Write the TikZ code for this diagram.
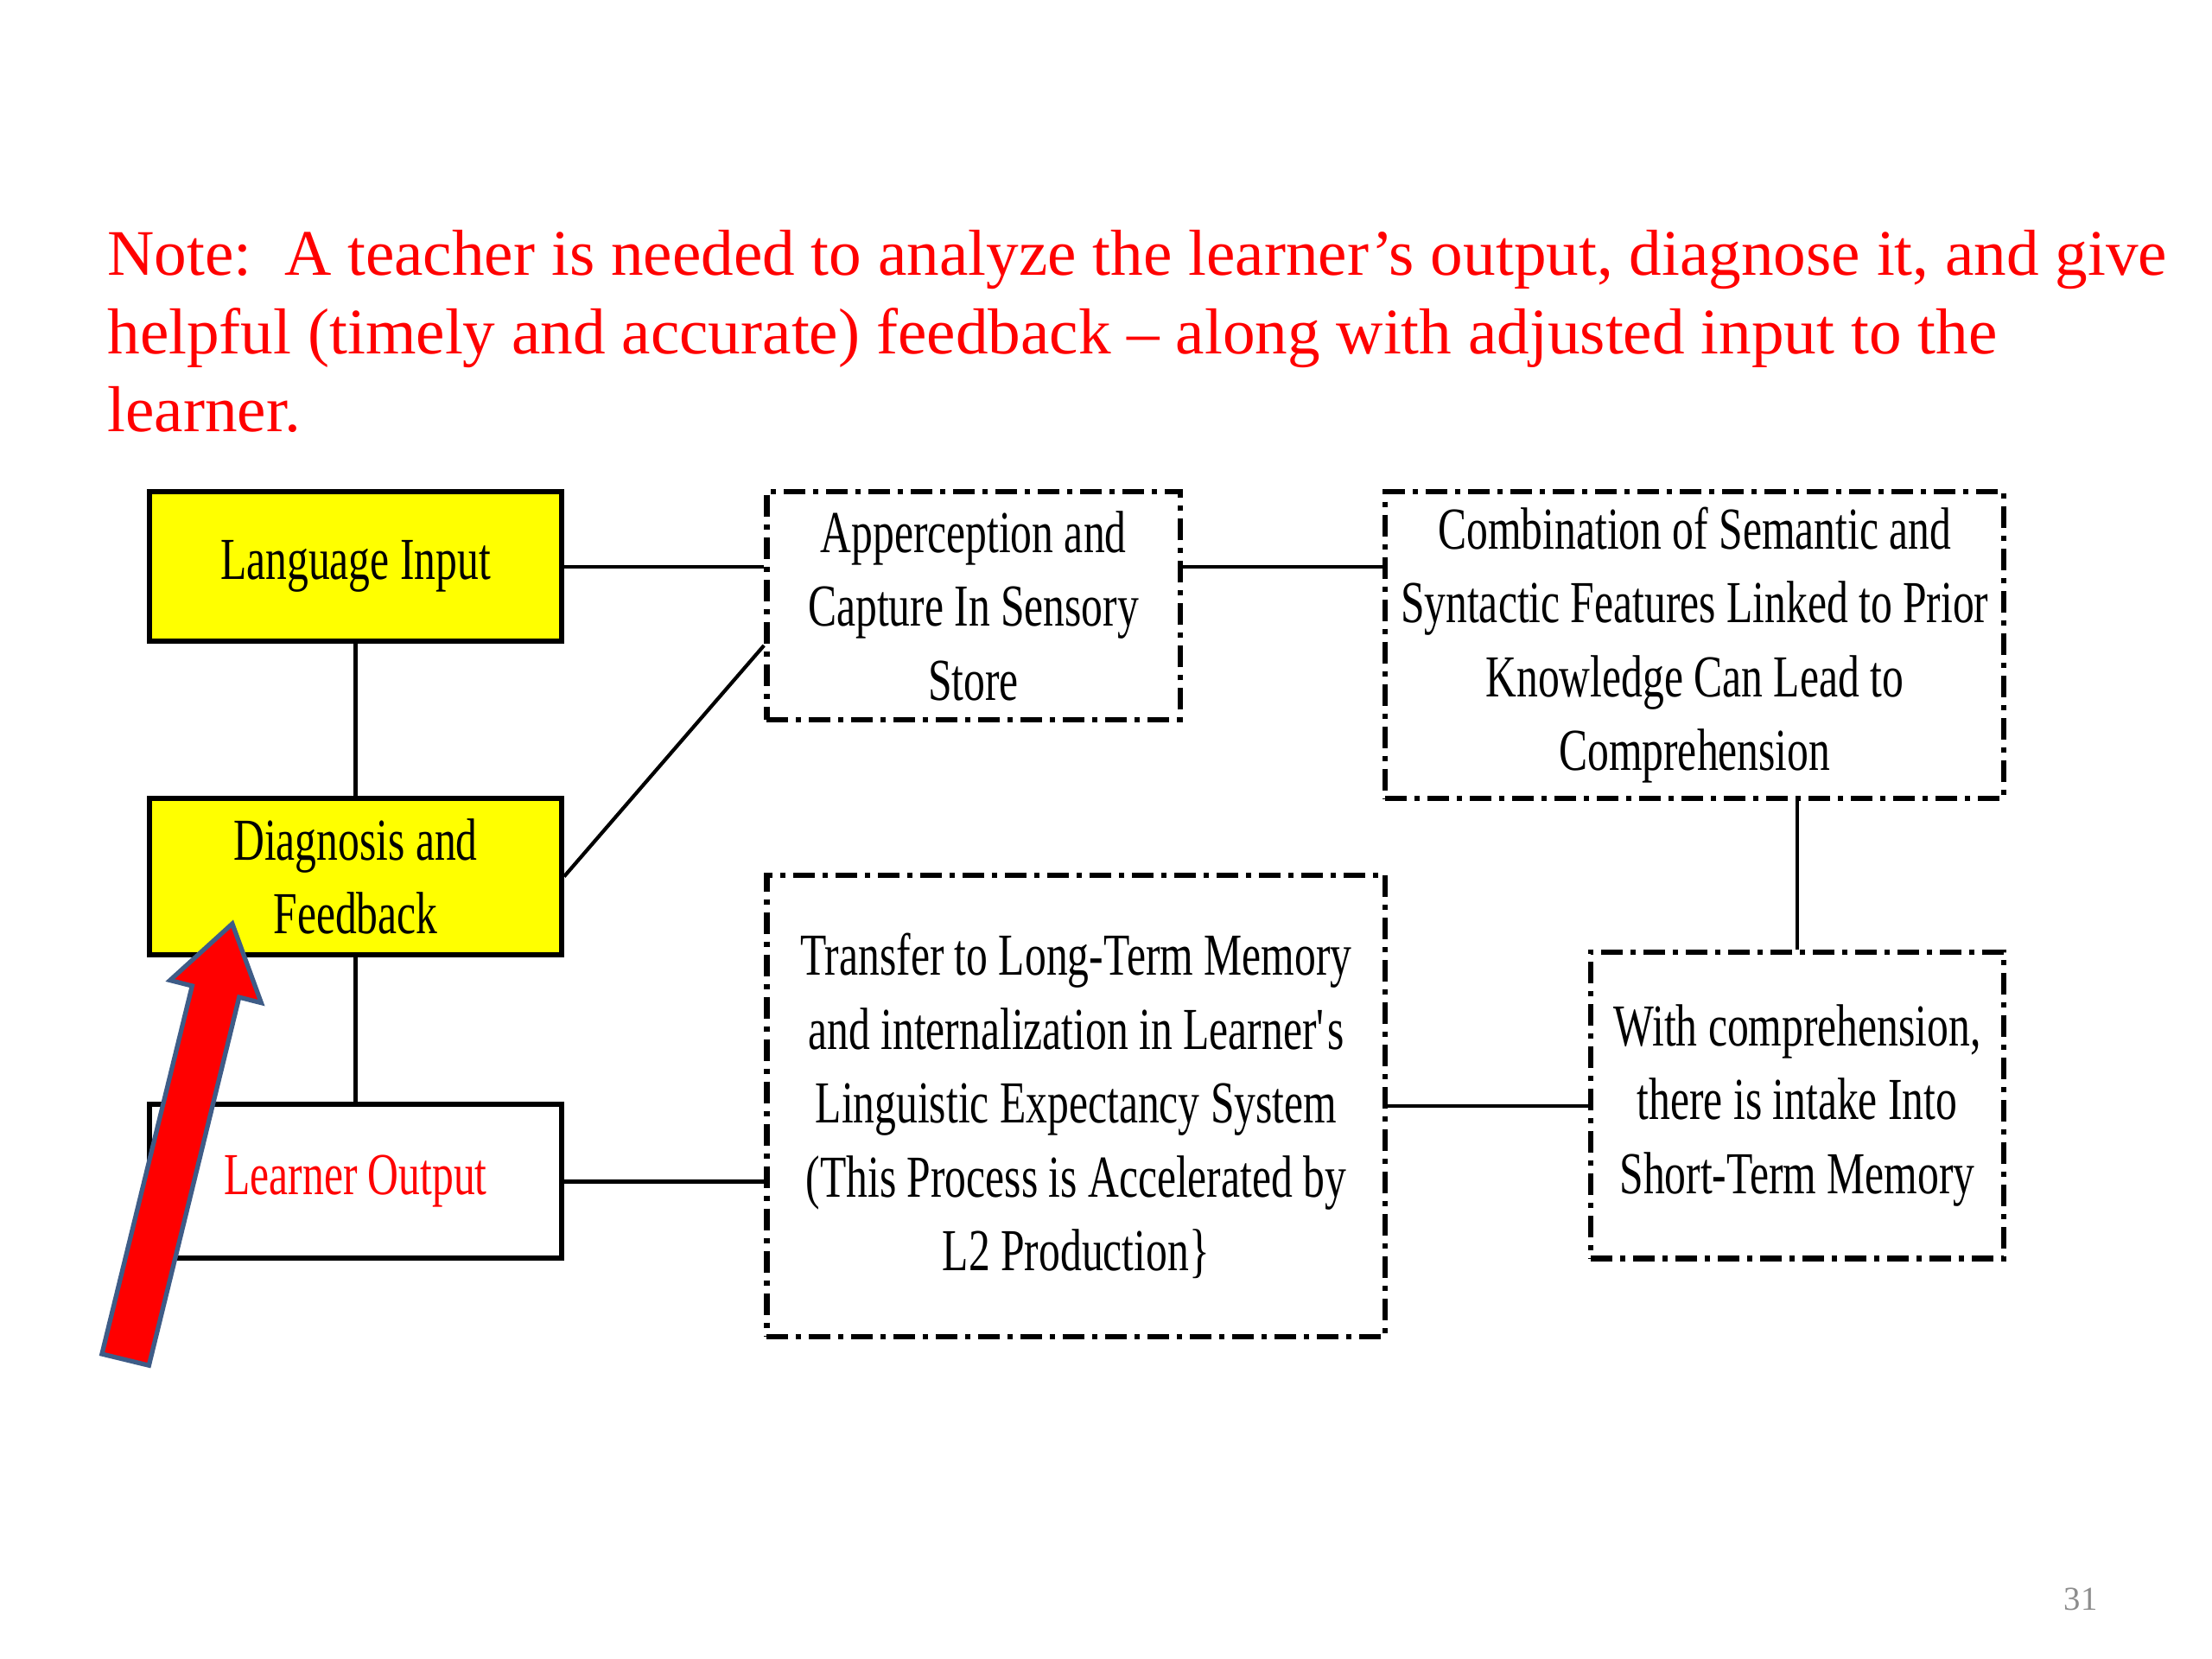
\documentclass[tikz,border=0pt]{standalone}
\usepackage{fontspec}
\setmainfont{Liberation Serif}
\newfontfamily\narrowserif[FakeStretch=0.72]{Liberation Serif}
\usetikzlibrary{calc}
\definecolor{hiyellow}{RGB}{255,255,0}
\definecolor{notered}{RGB}{255,0,0}
\definecolor{arrowedge}{RGB}{62,92,135}
\definecolor{pagegray}{RGB}{140,140,140}
\newcommand\boxfont{\narrowserif\fontsize{19.6}{24.3}\selectfont}
\newcommand\notefont{\fontsize{21.4}{25.8}\selectfont}
\begin{document}
\begin{tikzpicture}[x=0.016495cm, y=-0.016495cm,
  ybox/.style={draw=black, line width=1.7pt, fill=hiyellow, inner sep=0pt, align=center, font=\boxfont},
  wbox/.style={draw=black, line width=1.7pt, fill=white, inner sep=0pt, align=center, font=\boxfont, text=notered},
  dbox/.style={draw=black, line width=1.8pt, fill=white, inner sep=0pt, align=center, font=\boxfont,
    dash pattern=on 0.25cm off 0.09cm on 0.06cm off 0.09cm},
  conn/.style={draw=black, line width=1.2pt}]
\fill[white] (0,0) rectangle (1552,1164);
\useasboundingbox (0,0) rectangle (1552,1164);

\node[anchor=north west, inner sep=0pt, align=left, text=notered, font=\notefont] (note) at (75,161)
  {Note:\ \ A teacher is needed to analyze the learner’s output, diagnose it, and give\\
   helpful (timely and accurate) feedback – along with adjusted input to the\\
   learner.};

\node[ybox, minimum width=4.767cm, minimum height=1.732cm] (LI) at (249.5,397.5) {Language Input};
\node[ybox, minimum width=4.767cm, minimum height=1.814cm] (DF) at (249.5,615) {Diagnosis and\\Feedback};
\node[wbox, minimum width=4.767cm, minimum height=1.781cm] (LO) at (249.5,829) {Learner Output};

\node[dbox, minimum width=4.784cm, minimum height=2.639cm] (AP) at (683,425)
  {Apperception and\\Capture In Sensory\\Store};
\node[dbox, minimum width=7.159cm, minimum height=3.546cm] (CO) at (1189,452.5)
  {Combination of Semantic and\\Syntactic Features Linked to Prior\\Knowledge Can Lead to\\Comprehension};
\node[dbox, minimum width=7.159cm, minimum height=5.344cm] (TR) at (755,776)
  {Transfer to Long-Term Memory\\and internalization in Learner\textquotesingle s\\Linguistic Expectancy System\\(This Process is Accelerated by\\L2 Production\}};
\node[dbox, minimum width=4.784cm, minimum height=3.546cm] (WC) at (1261,775.5)
  {With comprehension,\\there is intake Into\\Short-Term Memory};

\node[text=pagegray, font=\fontsize{11}{13}\selectfont] (pg) at (1460,1122) {31};

\path[conn] (LI.east) -- (LI.east -| AP.west);
\path[conn] (LI.south) -- (DF.north);
\path[conn] (DF.south) -- (LO.north);
\path[conn] (DF.east) -- ($(AP.south west)!0.33!(AP.north west)$);
\path[conn] (LO.east) -- (LO.east -| TR.west);
\path[conn] (AP.east |- LI.east) -- (CO.west |- LI.east);
\path[conn] (WC.north) -- (WC.north |- CO.south);
\path[conn] (TR.east) -- (TR.east -| WC.west);

\draw[arrowedge, fill=notered, line width=1.5pt, line join=miter]
  (71.5,950) -- (104.5,958) -- (167.8,699.7) -- (183.3,703.6) -- (163,648.1)
  -- (119.3,687.8) -- (134.8,691.7) -- cycle;
\end{tikzpicture}
\end{document}
